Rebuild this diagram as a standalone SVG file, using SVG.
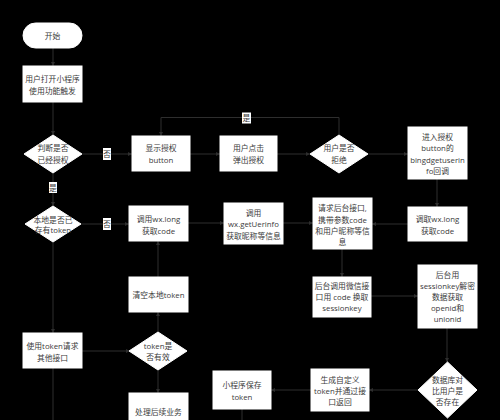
<svg xmlns="http://www.w3.org/2000/svg" width="500" height="420" viewBox="0 0 500 420">
<style>
.n{fill:#fff;stroke:#fff;stroke-width:1}
.t{font-family:"Open Sans","Noto Sans CJK SC",sans-serif;font-size:7.8px;fill:#3a3a3a;text-anchor:middle;dominant-baseline:central}
.c{fill:none;stroke:#2e2e2e;stroke-width:1}
.lb{fill:#fff}
</style>
<defs>
<marker id="a" viewBox="0 0 6 6" refX="6" refY="3" markerWidth="4" markerHeight="4" orient="auto">
<path d="M0,0 L6,3 L0,6 z" fill="#2e2e2e"/>
</marker>
</defs>
<rect width="500" height="420" fill="#000"/>
<g id="connectors">
<path class="c" d="M53,48 V66" marker-end="url(#a)"/>
<path class="c" d="M53,102 V135" marker-end="url(#a)"/>
<path class="c" d="M82,154 H132" marker-end="url(#a)"/>
<path class="c" d="M190,154 H220" marker-end="url(#a)"/>
<path class="c" d="M277,154 H310" marker-end="url(#a)"/>
<path class="c" d="M368,154 H408" marker-end="url(#a)"/>
<path class="c" d="M339,135 V117.5 H161 V136" marker-end="url(#a)"/>
<path class="c" d="M437,179 V207" marker-end="url(#a)"/>
<path class="c" d="M408,224 H372" marker-end="url(#a)"/>
<path class="c" d="M53,173 V206" marker-end="url(#a)"/>
<path class="c" d="M81,224 H129" marker-end="url(#a)"/>
<path class="c" d="M188,223 H224" marker-end="url(#a)"/>
<path class="c" d="M283,223 H313" marker-end="url(#a)"/>
<path class="c" d="M342,249 V277" marker-end="url(#a)"/>
<path class="c" d="M371,296 H418" marker-end="url(#a)"/>
<path class="c" d="M447,328 V362" marker-end="url(#a)"/>
<path class="c" d="M418,390 H369" marker-end="url(#a)"/>
<path class="c" d="M311,390 H271" marker-end="url(#a)"/>
<path class="c" d="M242,409 V420"/>
<path class="c" d="M53,242 V333" marker-end="url(#a)"/>
<path class="c" d="M82,351 H130" marker-end="url(#a)"/>
<path class="c" d="M53,368 V420"/>
<path class="c" d="M158,332 V312" marker-end="url(#a)"/>
<path class="c" d="M158,277 V241" marker-end="url(#a)"/>
<path class="c" d="M158,370 V393" marker-end="url(#a)"/>
<rect class="lb" x="103" y="148" width="8" height="12"/>
<text class="t" x="107" y="154">否</text>
<rect class="lb" x="242" y="112.5" width="9" height="11"/>
<text class="t" x="246.5" y="118">是</text>
<rect class="lb" x="49" y="182" width="8" height="11"/>
<text class="t" x="53" y="187.5">是</text>
<rect class="lb" x="103" y="218" width="8" height="12"/>
<text class="t" x="107" y="224">否</text>
</g>
<g id="start"><rect class="n" x="23" y="23" width="59" height="25" rx="12.5"/><text class="t" x="52.5" y="36">开始</text></g>
<g id="open"><rect class="n" x="23" y="66" width="59" height="36"/><text class="t" x="52.5" y="79">用户打开小程序</text><text class="t" x="52.5" y="91">使用功能触发</text></g>
<g id="judge"><polygon class="n" points="53,135 82,154 53,173 24,154"/><text class="t" x="53" y="148">判断是否</text><text class="t" x="53" y="160">已经授权</text></g>
<g id="show"><rect class="n" x="132" y="136" width="58" height="35"/><text class="t" x="161" y="148">显示授权</text><text class="t" x="161" y="160">button</text></g>
<g id="click"><rect class="n" x="220" y="136" width="57" height="35"/><text class="t" x="248.5" y="148">用户点击</text><text class="t" x="248.5" y="160">弹出授权</text></g>
<g id="refuse"><polygon class="n" points="339,135 368,154 339,173 310,154"/><text class="t" x="339" y="148">用户是否</text><text class="t" x="339" y="160">拒绝</text></g>
<g id="enter"><rect class="n" x="408" y="127" width="59" height="52"/><text class="t" x="437.5" y="136.5">进入授权</text><text class="t" x="437.5" y="148">button的</text><text class="t" x="437.5" y="159.5">bingdgetuserin</text><text class="t" x="437.5" y="171">fo回调</text></g>
<g id="getcode2"><rect class="n" x="408" y="207" width="59" height="34"/><text class="t" x="437.5" y="219">调取wx.long</text><text class="t" x="437.5" y="230.5">获取code</text></g>
<g id="request"><rect class="n" x="313" y="198" width="59" height="51"/><text class="t" x="342.5" y="208">请求后台接口,</text><text class="t" x="342.5" y="219.5">携带参数code</text><text class="t" x="342.5" y="231">和用户昵称等信</text><text class="t" x="342.5" y="242">息</text></g>
<g id="userinfo"><rect class="n" x="224" y="203" width="59" height="41"/><text class="t" x="253.5" y="213">调用</text><text class="t" x="253.5" y="224">wx.getUerinfo</text><text class="t" x="253.5" y="235.5">获取昵称等信息</text></g>
<g id="getcode1"><rect class="n" x="129" y="206" width="59" height="35"/><text class="t" x="158.5" y="219">调用wx.long</text><text class="t" x="158.5" y="231">获取code</text></g>
<g id="local"><polygon class="n" points="53,206 81,224 53,242 25,224"/><text class="t" x="53" y="219.5">本地是否已</text><text class="t" x="53" y="230">存有token</text></g>
<g id="clear"><rect class="n" x="129" y="277" width="59" height="35"/><text class="t" x="158.5" y="295">清空本地token</text></g>
<g id="valid"><polygon class="n" points="158,332 187,351 158,370 129,351"/><text class="t" x="158" y="346">token是</text><text class="t" x="158" y="357">否有效</text></g>
<g id="use"><rect class="n" x="23" y="333" width="59" height="35"/><text class="t" x="52.5" y="346">使用token请求</text><text class="t" x="52.5" y="357.5">其他接口</text></g>
<g id="later"><rect class="n" x="129" y="393" width="59" height="35"/><text class="t" x="158.5" y="411.5">处理后续业务</text></g>
<g id="save"><rect class="n" x="213" y="371" width="58" height="38"/><text class="t" x="242" y="385">小程序保存</text><text class="t" x="242" y="397">token</text></g>
<g id="gen"><rect class="n" x="311" y="369" width="58" height="42"/><text class="t" x="340" y="380">生成自定义</text><text class="t" x="340" y="391">token并通过接</text><text class="t" x="340" y="402">口返回</text></g>
<g id="db"><polygon class="n" points="447.5,362 477,390 447.5,418 418,390"/><text class="t" x="447.5" y="380">数据库对</text><text class="t" x="447.5" y="391">比用户是</text><text class="t" x="447.5" y="402">否存在</text></g>
<g id="decrypt"><rect class="n" x="418" y="265" width="59" height="63"/><text class="t" x="447.5" y="275">后台用</text><text class="t" x="447.5" y="286">sessionkey解密</text><text class="t" x="447.5" y="297">数据获取</text><text class="t" x="447.5" y="308">openid和</text><text class="t" x="447.5" y="319">unionid</text></g>
<g id="wxapi"><rect class="n" x="313" y="277" width="58" height="40"/><text class="t" x="342" y="286">后台调用微信接</text><text class="t" x="342" y="297">口用 code 换取</text><text class="t" x="342" y="308">sessionkey</text></g>
</svg>
